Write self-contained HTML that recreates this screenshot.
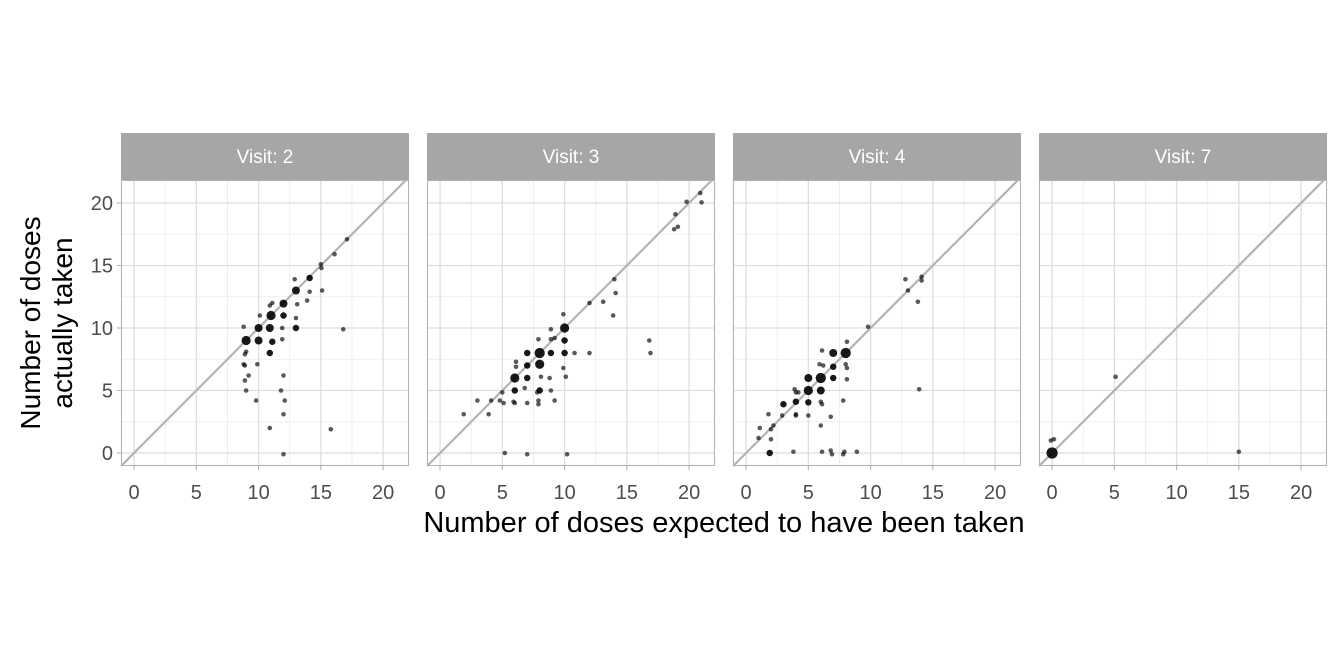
<!DOCTYPE html>
<html><head><meta charset="utf-8"><style>
body{margin:0;background:#fff;}
svg{display:block;font-family:"Liberation Sans",Arial,sans-serif;}
</style></head><body>
<svg id="chart" width="1344" height="672"></svg>
<script>
const visits=["Visit: 2","Visit: 3","Visit: 4","Visit: 7"];
const xTicks=[0,5,10,15,20];
const yTicks=[0,5,10,15,20];
// each point: [expected, actual, count]
const visit2=[[17.1,17.1,1],[16.1,15.9,1],[15,15.1,1],[15.05,14.8,1],[14.1,14.0,2],[12.9,13.9,1],[13,13,3],[14.1,12.9,1],[15.1,13.0,1],[13.9,12.2,1],[12,11.95,3],[13.1,11.9,1],[10.9,11.8,1],[11.1,12.0,1],[10.1,11.0,1],[11,11,4],[12,11,2],[13,10.8,1],[8.8,10.1,1],[10,10,3],[10.9,10,3],[11.9,10,1],[13,10,2],[16.8,9.9,1],[9,9,4],[10,9,3],[11.1,8.9,2],[11.9,9.1,1],[9,8.1,1],[8.9,7.9,1],[10.9,8.0,2],[8.8,7.1,1],[8.9,7.0,1],[9.9,7.1,1],[9.2,6.2,1],[12.0,6.2,1],[8.9,5.8,1],[9,5,1],[11.8,5,1],[9.8,4.2,1],[12.1,4.2,1],[12,3.1,1],[10.9,2,1],[15.8,1.9,1],[12,-0.1,1]];
const visit3=[[20.9,20.8,1],[19.8,20.1,1],[21,20.05,1],[18.9,19.1,1],[18.8,17.9,1],[19.1,18.1,1],[14,13.9,1],[14.1,12.8,1],[12,12,1],[13.1,12.1,1],[13.9,11,1],[9.9,11.1,1],[10,10,4],[8.9,9.9,1],[7.9,9.1,1],[8.9,9.1,1],[9.2,9.2,1],[10,9,2],[16.8,9,1],[16.9,8,1],[8,8,5],[7,8,2],[8.9,8,2],[10,8,2],[10.8,8,1],[12,8,1],[6.1,7.3,1],[6.1,6.9,1],[7,7,2],[8,7.1,4],[9.9,6.8,1],[6,6,4],[7,6,2],[8.1,6.1,1],[8.8,6,1],[10.1,6.1,1],[6,5,2],[6.8,5.2,1],[5,4.85,1],[8,5,2],[8.9,5,1],[7.8,4.85,1],[3,4.2,1],[4.1,4.2,1],[4.8,4.2,1],[5.1,4.0,1],[5.9,4.1,1],[6.0,4,1],[7,4,1],[7.9,4.2,1],[7.9,3.9,1],[9.2,4.2,1],[1.9,3.1,1],[3.9,3.1,1],[5.2,0,1],[7,-0.1,1],[10.2,-0.1,1]];
const visit4=[[14.1,14.1,1],[14.1,13.8,1],[12.8,13.9,1],[13,13,1],[13.8,12.1,1],[13.9,5.1,1],[9.8,10.1,1],[8.1,8.9,1],[6.1,8.2,1],[7,8,3],[8,8,5],[5.9,7.1,1],[6.2,7,1],[7,6.9,2],[8,7.1,1],[8.1,6.8,1],[6,6,5],[5,6,3],[7,6,2],[8.1,5.9,1],[3.9,5.1,1],[4,4.85,1],[4.2,4.85,1],[5,5,4],[6,5,3],[3,3.9,2],[4,4.1,2],[5,4.05,2],[6,4.1,1],[6.1,3.9,1],[7.8,4.2,1],[1.8,3.1,1],[2.9,3.0,1],[4,3.1,1],[4,3,1],[5,3,1],[6.8,2.9,1],[1.1,2,1],[2,1.9,1],[2.2,2.2,1],[6,2.2,1],[1,1.2,1],[2,1.1,1],[1.9,0,2],[3.8,0.1,1],[6.1,0.1,1],[6.8,0.2,1],[6.9,-0.1,1],[7.9,0.1,1],[7.8,-0.1,1],[8.9,0.1,1]];
const visit7=[[0,0,6],[-0.1,1,1],[0.15,1.1,1],[5.1,6.1,1],[15,0.1,1]];
const series=[visit2,visit3,visit4,visit7];

const NS="http://www.w3.org/2000/svg";
const svg=document.getElementById('chart');
function mk(tag,attrs,parent){const e=document.createElementNS(NS,tag);for(const k in attrs)e.setAttribute(k,attrs[k]);(parent||svg).appendChild(e);return e;}
const panelX=[121,427,733,1039], pw=288, plotTop=180, ph=286;
const xmin=-1.05,xmax=22.08,ymin=-1.04,ymax=21.84;
const sx=(i,v)=>panelX[i]+(v-xmin)/(xmax-xmin)*pw;
const sy=v=>plotTop+ph-(v-ymin)/(ymax-ymin)*ph;

series.forEach((pts,i)=>{
  const g=mk('g',{});
  
  
  const st=mk('rect',{x:panelX[i],y:133,width:pw,height:47,fill:'#a6a6a6'},g);
  
  
  const stt=mk('text',{x:panelX[i]+pw/2,y:163,'text-anchor':'middle','font-size':19,fill:'#fff'},g);
  stt.textContent=visits[i];
  
  
  for(let v=-2.5;v<=22.5;v+=5){
    if(v>xmin&&v<xmax) mk('line',{x1:sx(i,v),x2:sx(i,v),y1:plotTop,y2:plotTop+ph,stroke:'#ebebeb','stroke-width':0.8},g);
    if(v>ymin&&v<ymax) mk('line',{x1:panelX[i],x2:panelX[i]+pw,y1:sy(v),y2:sy(v),stroke:'#ebebeb','stroke-width':0.8},g);
  }
  xTicks.forEach(t=>{
    mk('line',{x1:sx(i,t),x2:sx(i,t),y1:plotTop,y2:plotTop+ph,stroke:'#dedede','stroke-width':1.3},g);
    mk('line',{x1:sx(i,t),x2:sx(i,t),y1:plotTop+ph,y2:plotTop+ph+4,stroke:'#b3b3b3','stroke-width':1.1},g);
    const tl=mk('text',{x:sx(i,t),y:499,'text-anchor':'middle','font-size':20,fill:'#4d4d4d'},g);
    tl.textContent=t;
    
    
  });
  yTicks.forEach(t=>{
    mk('line',{x1:panelX[i],x2:panelX[i]+pw,y1:sy(t),y2:sy(t),stroke:'#dedede','stroke-width':1.3},g);
  });
  const lo=Math.max(xmin,ymin),hi=Math.min(xmax,ymax);
  const d=mk('line',{x1:sx(i,lo),y1:sy(lo),x2:sx(i,hi),y2:sy(hi),stroke:'#b3b3b3','stroke-width':2.2},g);
  
  
  pts.forEach(p=>{
    const c=mk('circle',{cx:sx(i,p[0]),cy:sy(p[1]),r:2.3*Math.sqrt(p[2]),fill:'#000','fill-opacity':p[2]>1?0.9:0.65},g);
    
    
  });
  const b=mk('rect',{x:panelX[i]+0.5,y:plotTop+0.5,width:pw-1,height:ph-1,fill:'none',stroke:'#b3b3b3','stroke-width':1.1},g);
  
  
});
yTicks.forEach(t=>{
  mk('line',{x1:117,x2:121,y1:sy(t),y2:sy(t),stroke:'#b3b3b3','stroke-width':1.1});
  const tl=mk('text',{x:113,y:sy(t)+7,'text-anchor':'end','font-size':20,fill:'#4d4d4d'});
  tl.textContent=t;
  
  
});
const xt=mk('text',{x:724,y:532,'text-anchor':'middle','font-size':29,fill:'#000'});
xt.textContent='Number of doses expected to have been taken';


const yt=mk('text',{transform:'translate(56,323) rotate(-90)','text-anchor':'middle','font-size':28,fill:'#000'});


const t1=mk('tspan',{x:0,dy:-16},yt);t1.textContent='Number of doses';
const t2=mk('tspan',{x:0,dy:32},yt);t2.textContent='actually taken';
</script>
</body></html>
